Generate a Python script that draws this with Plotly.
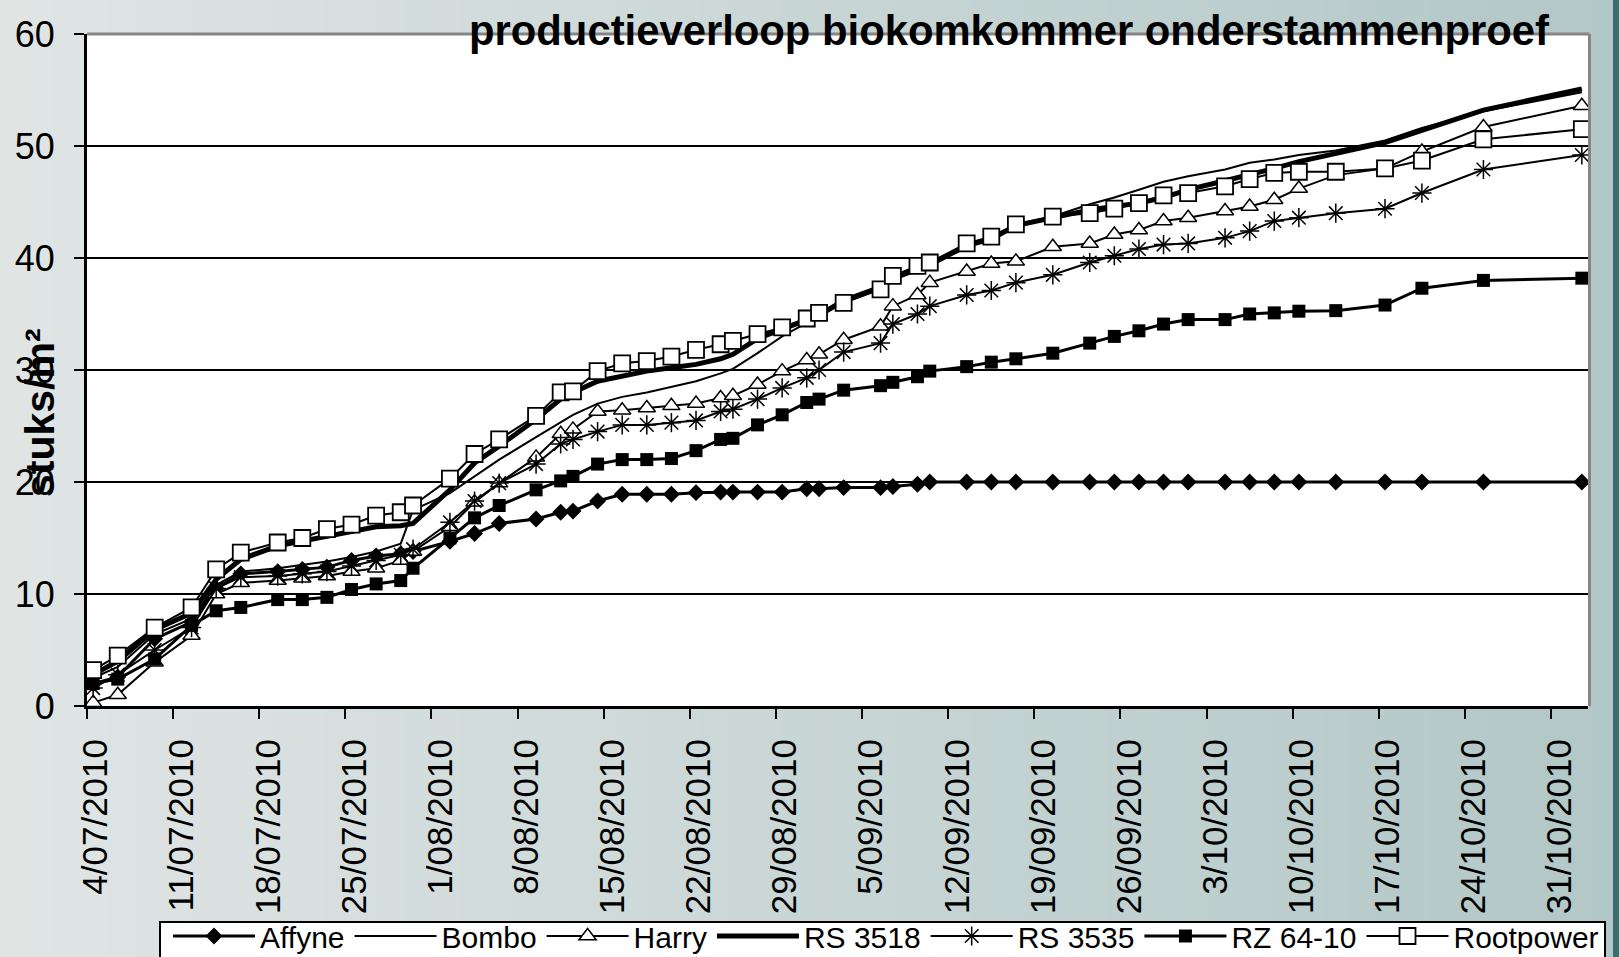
import plotly.graph_objects as go
import pandas as pd

# ---------------- data ----------------
dates = ["2010-07-04", "2010-07-06", "2010-07-09", "2010-07-12", "2010-07-14", "2010-07-16",
         "2010-07-19", "2010-07-21", "2010-07-23", "2010-07-25", "2010-07-27", "2010-07-29",
         "2010-07-30", "2010-08-02", "2010-08-04", "2010-08-06", "2010-08-09", "2010-08-11",
         "2010-08-12", "2010-08-14", "2010-08-16", "2010-08-18", "2010-08-20", "2010-08-22",
         "2010-08-24", "2010-08-25", "2010-08-27", "2010-08-29", "2010-08-31", "2010-09-01",
         "2010-09-03", "2010-09-06", "2010-09-07", "2010-09-09", "2010-09-10", "2010-09-13",
         "2010-09-15", "2010-09-17", "2010-09-20", "2010-09-23", "2010-09-25", "2010-09-27",
         "2010-09-29", "2010-10-01", "2010-10-04", "2010-10-06", "2010-10-08", "2010-10-10",
         "2010-10-13", "2010-10-17", "2010-10-20", "2010-10-25", "2010-11-02"]

affyne = [2.0, 2.6, 6.0, 7.5, 10.5, 11.8, 12.0, 12.2, 12.4, 13.0, 13.4, 13.6, 13.8, 14.7, 15.4,
          16.3, 16.7, 17.3, 17.4, 18.3, 18.9, 18.9, 18.9, 19.05, 19.1, 19.1, 19.1, 19.1, 19.4,
          19.4, 19.5, 19.5, 19.6, 19.8, 20.0, 20.0, 20.0, 20.0, 20.0, 20.0, 20.0, 20.0, 20.0,
          20.0, 20.0, 20.0, 20.0, 20.0, 20.0, 20.0, 20.0, 20.0, 20.0]

bombo = [2.5, 3.5, 6.4, 7.8, 10.8, 12.0, 12.3, 12.6, 12.9, 13.3, 13.8, 14.5, 17.5, 19.0, 20.5,
         22.0, 24.0, 25.3, 26.0, 27.0, 27.6, 28.0, 28.5, 29.0, 29.7, 30.1, 31.5, 33.0, 34.2,
         34.8, 36.0, 37.3, 38.0, 38.9, 39.4, 41.2, 41.6, 42.8, 43.7, 44.8, 45.4, 46.1, 46.8,
         47.3, 47.9, 48.5, 48.8, 49.2, 49.6, 50.5, 51.6, 53.1, 54.8]

harry = [0.3, 1.0, 3.9, 6.3, 10.0, 11.0, 11.2, 11.4, 11.6, 12.0, 12.3, 13.0, 13.8, 16.0, 18.2,
         19.9, 22.2, 24.3, 24.7, 26.3, 26.4, 26.6, 26.8, 27.0, 27.5, 27.7, 28.7, 29.9, 30.9,
         31.4, 32.7, 33.9, 35.7, 36.7, 37.8, 38.8, 39.5, 39.7, 41.0, 41.3, 42.1, 42.5, 43.3,
         43.6, 44.2, 44.6, 45.2, 46.2, 47.4, 48.0, 49.5, 51.7, 53.6]

rs3518 = [2.8, 4.0, 6.8, 8.3, 11.3, 13.1, 14.3, 14.7, 15.1, 15.5, 16.0, 16.1, 16.3, 19.3, 21.7,
          23.2, 25.6, 27.4, 28.0, 29.0, 29.5, 29.9, 30.2, 30.5, 31.0, 31.4, 32.8, 33.6, 34.4,
          34.9, 36.2, 37.4, 38.2, 39.0, 39.4, 41.1, 41.7, 42.9, 43.6, 44.3, 44.6, 44.9, 45.4,
          46.1, 46.9, 47.4, 48.0, 48.6, 49.3, 50.3, 51.4, 53.2, 55.1]

rs3535 = [1.6, 2.8, 5.0, 7.0, 10.5, 11.5, 11.6, 11.8, 12.0, 12.5, 13.0, 13.5, 14.0, 16.4, 18.3,
          19.9, 21.6, 23.4, 23.8, 24.5, 25.1, 25.1, 25.3, 25.5, 26.3, 26.5, 27.4, 28.4, 29.3,
          30.0, 31.6, 32.4, 34.1, 35.0, 35.7, 36.7, 37.1, 37.8, 38.5, 39.6, 40.2, 40.8, 41.2,
          41.3, 41.8, 42.4, 43.3, 43.6, 44.0, 44.4, 45.8, 47.9, 49.2]

rz6410 = [2.0, 2.4, 4.2, 7.2, 8.5, 8.8, 9.5, 9.5, 9.7, 10.4, 10.9, 11.2, 12.3, 15.0, 16.8,
          17.9, 19.3, 20.1, 20.5, 21.6, 22.0, 22.0, 22.1, 22.8, 23.8, 23.9, 25.1, 26.0, 27.1,
          27.4, 28.2, 28.6, 28.9, 29.4, 29.9, 30.3, 30.7, 31.0, 31.5, 32.4, 33.0, 33.5, 34.1,
          34.5, 34.5, 35.0, 35.1, 35.25, 35.3, 35.8, 37.3, 38.0, 38.2]

rootpower = [3.2, 4.5, 7.0, 8.8, 12.2, 13.7, 14.6, 15.0, 15.8, 16.2, 17.0, 17.3, 17.9, 20.3, 22.5,
             23.8, 25.9, 28.0, 28.1, 29.9, 30.6, 30.8, 31.2, 31.8, 32.3, 32.6, 33.2, 33.8, 34.6,
             35.1, 36.0, 37.2, 38.4, 39.3, 39.6, 41.3, 41.9, 43.0, 43.7, 44.0, 44.4, 44.9, 45.6,
             45.8, 46.4, 47.05, 47.6, 47.7, 47.7, 48.0, 48.7, 50.6, 51.5]

series_names = ["Affyne", "Bombo", "Harry", "RS 3518", "RS 3535", "RZ 64-10", "Rootpower"]
title_text = "productieverloop biokomkommer onderstammenproef"
y_title = "stuks/m²"
first_week = "2010-07-04"
n_weeks = 18
y_ticks = [0, 10, 20, 30, 40, 50, 60]

# ---------------- figure ----------------
FONT = "Liberation Sans, Arial, sans-serif"
W, H = 1619, 957
ML, MR, MT, MB = 87, 31, 34, 251
PW, PH = W - ML - MR, H - MT - MB


def px_x(p):
    return (p - ML) / PW


def px_y(p):
    return (H - MB - p) / PH


x = pd.to_datetime(dates)

fig = go.Figure()

styles = {
    "Affyne": dict(line=dict(color="black", width=3),
                   marker=dict(symbol="diamond", size=13, color="black")),
    "Bombo": dict(line=dict(color="black", width=2), mode="lines"),
    "Harry": dict(line=dict(color="black", width=2),
                  marker=dict(symbol="triangle-up", size=15, color="white",
                              line=dict(color="black", width=1.5))),
    "RS 3518": dict(line=dict(color="black", width=5), mode="lines"),
    "RS 3535": dict(line=dict(color="black", width=2),
                    marker=dict(symbol="asterisk-open", size=16, color="black",
                                line=dict(color="black", width=1.5))),
    "RZ 64-10": dict(line=dict(color="black", width=3),
                     marker=dict(symbol="square", size=13, color="black")),
    "Rootpower": dict(line=dict(color="black", width=2),
                      marker=dict(symbol="square", size=16, color="white",
                                  line=dict(color="black", width=1.8))),
}
values = [affyne, bombo, harry, rs3518, rs3535, rz6410, rootpower]

for name, vals in zip(series_names, values):
    st = dict(styles[name])
    mode = st.pop("mode", "lines+markers")
    fig.add_trace(go.Scatter(x=x, y=vals, name=name, mode=mode, **st))

# background gradient (decorative)
shapes = []
n = 60
c0 = (224, 229, 228)
c1 = (178, 199, 199)
for i in range(n):
    p0 = W * i / n
    p1 = W * (i + 1) / n + 1
    t = i / (n - 1)
    col = tuple(int(round(c0[k] + (c1[k] - c0[k]) * t)) for k in range(3))
    shapes.append(dict(type="rect", xref="paper", yref="paper", layer="below",
                       x0=px_x(p0), x1=px_x(p1), y0=px_y(H + 5), y1=px_y(-5),
                       fillcolor="rgb(%d,%d,%d)" % col, line=dict(width=0)))
# right edge dark border
shapes.append(dict(type="rect", xref="paper", yref="paper", layer="below",
                   x0=px_x(1613), x1=px_x(1625), y0=px_y(H + 5), y1=px_y(-5),
                   fillcolor="#3d6e6e", line=dict(width=0)))
# plot area
shapes.append(dict(type="rect", xref="paper", yref="paper", layer="below",
                   x0=0, x1=1, y0=0, y1=1, fillcolor="white", line=dict(width=0)))
# legend box
shapes.append(dict(type="rect", xref="paper", yref="paper", layer="below",
                   x0=px_x(160), x1=px_x(1605), y0=px_y(965), y1=px_y(922),
                   fillcolor="white", line=dict(color="black", width=2)))
# plot area border (top / right in grey)
shapes.append(dict(type="line", xref="paper", yref="paper", layer="above",
                   x0=0, x1=1.001, y0=1, y1=1, line=dict(color="#858585", width=3)))
shapes.append(dict(type="line", xref="paper", yref="paper", layer="above",
                   x0=1.001, x1=1.001, y0=0, y1=1, line=dict(color="#858585", width=3)))

# x ticks at day boundaries (Excel "between tick marks" date axis)
week0 = pd.Timestamp(first_week)
tick_dates = [week0 + pd.Timedelta(days=7 * k) for k in range(n_weeks)]
tickvals = [d - pd.Timedelta(hours=12) for d in tick_dates]
ticktext = [f"{d.day}/{d.month:02d}/{d.year}" for d in tick_dates]

x_start = x.min() - pd.Timedelta(hours=12)
x_end = x.max() + pd.Timedelta(hours=12)

fig.update_layout(
    width=W, height=H,
    margin=dict(l=ML, r=MR, t=MT, b=MB, autoexpand=False),
    paper_bgcolor="#d6dede",
    plot_bgcolor="rgba(0,0,0,0)",
    font=dict(family=FONT, color="black"),
    shapes=shapes,
    showlegend=True,
    legend=dict(orientation="h", x=px_x(168), y=px_y(910),
                xanchor="left", yanchor="top", bgcolor="rgba(0,0,0,0)",
                borderwidth=0,
                font=dict(family=FONT, size=30, color="black"),
                itemwidth=82, tracegroupgap=0),
    xaxis=dict(type="date", range=[x_start, x_end], tickmode="array",
               tickvals=tickvals, ticktext=ticktext, tickangle=-90,
               tickfont=dict(family=FONT, size=35, color="black"),
               ticks="outside", ticklen=10, tickwidth=2, tickcolor="black",
               showgrid=False, zeroline=False, showline=True,
               linecolor="black", linewidth=3, ticklabelstandoff=6,
               ticklabelshift=9),
    yaxis=dict(range=[0, 60], tickmode="array", tickvals=y_ticks,
               tickfont=dict(family=FONT, size=36, color="black"),
               ticks="outside", ticklen=10, tickwidth=2, tickcolor="black",
               showgrid=True, gridcolor="black", gridwidth=1.5,
               zeroline=False, showline=True, linecolor="black", linewidth=3,
               ticklabelstandoff=12),
    annotations=[
        dict(text=title_text, xref="paper", yref="paper",
             x=px_x(1009), y=px_y(31), xanchor="center", yanchor="middle",
             showarrow=False, font=dict(family=FONT, size=41.8, color="black", weight="bold")),
        dict(text=y_title, xref="paper", yref="paper",
             x=px_x(40), y=px_y(413), xanchor="center", yanchor="middle",
             textangle=-90, showarrow=False,
             font=dict(family=FONT, size=41, color="black", weight="bold")),
    ],
)

fig.write_html("out.html", config={"displayModeBar": False},
               post_script="document.body.style.margin='0';document.body.style.overflow='hidden';")
